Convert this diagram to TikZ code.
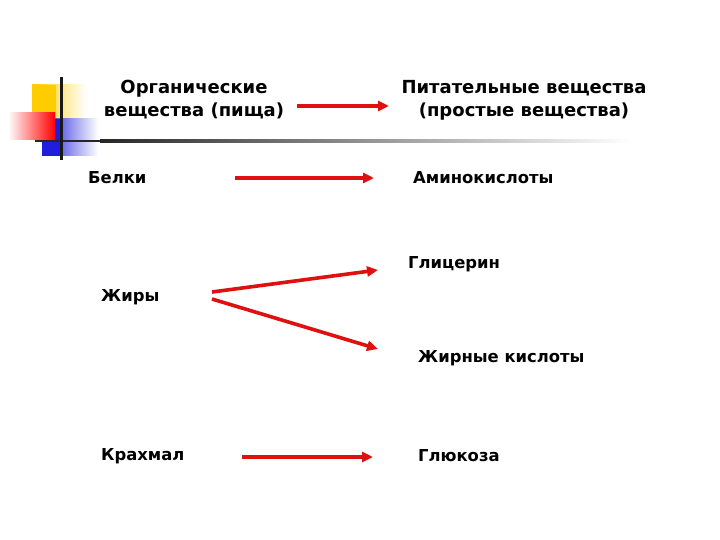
\documentclass[tikz,border=0pt]{standalone}
\usepackage{fontspec}
\setmainfont{DejaVu Sans}
\usetikzlibrary{arrows.meta}
\definecolor{arrred}{RGB}{222,16,16}
\definecolor{decyel}{RGB}{255,204,0}
\definecolor{decblue}{RGB}{30,30,220}
\begin{document}
\begin{tikzpicture}[x=1pt,y=-1pt,
  hdr/.style={font=\bfseries\fontsize{18}{23}\selectfont, align=center, inner sep=0pt},
  lbl/.style={font=\bfseries\fontsize{16.4}{20}\selectfont, anchor=west, inner sep=0pt},
  redarrow/.style={draw=arrred, line width=3.6pt, -{Triangle[length=11pt,width=10pt]}}]
\useasboundingbox (0,0) rectangle (720,540);
% decoration
\shade[left color=decyel, right color=white] (32,85) rectangle (86,128);
\fill[decyel] (32,85) rectangle (56,128);
\shade[left color=decblue, right color=white] (42,119) rectangle (98,156);
\fill[decblue] (42,119) rectangle (62,156);
\shade[left color=white, right color=red] (8,113) rectangle (55,140);
\fill[black!85] (35,139.8) rectangle (100,142.2);
\shade[left color=black!85, right color=white] (100,139.8) rectangle (630,142.2);
\fill[black!90] (59.5,77) rectangle (62.5,160);
% headers
\node[hdr] (org) at (194,100) {Органические\\вещества (пища)};
\node[hdr] (pit) at (524,100) {Питательные вещества\\(простые вещества)};
% labels
\node[lbl] (belki) at (88,178) {Белки};
\node[lbl] (amino) at (413,178) {Аминокислоты};
\node[lbl] (glic) at (408,264) {Глицерин};
\node[lbl] (zhiry) at (101,297) {Жиры};
\node[lbl] (zhk) at (418,358) {Жирные кислоты};
\node[lbl] (krah) at (101,456) {Крахмал};
\node[lbl] (gluk) at (418,456) {Глюкоза};
% arrow ends
\coordinate (a0s) at (297,106); \coordinate (a0e) at (389,106);
\coordinate (a1s) at (235,178); \coordinate (a1e) at (374,178);
\coordinate (a2s) at (212,292); \coordinate (a2e) at (378,270);
\coordinate (a3s) at (212,299); \coordinate (a3e) at (378,349);
\coordinate (a4s) at (242,457); \coordinate (a4e) at (373,457);
\draw[redarrow] (a0s) -- (a0e);
\draw[redarrow] (a1s) -- (a1e);
\draw[redarrow] (a2s) -- (a2e);
\draw[redarrow] (a3s) -- (a3e);
\draw[redarrow] (a4s) -- (a4e);
\end{tikzpicture}
\end{document}
